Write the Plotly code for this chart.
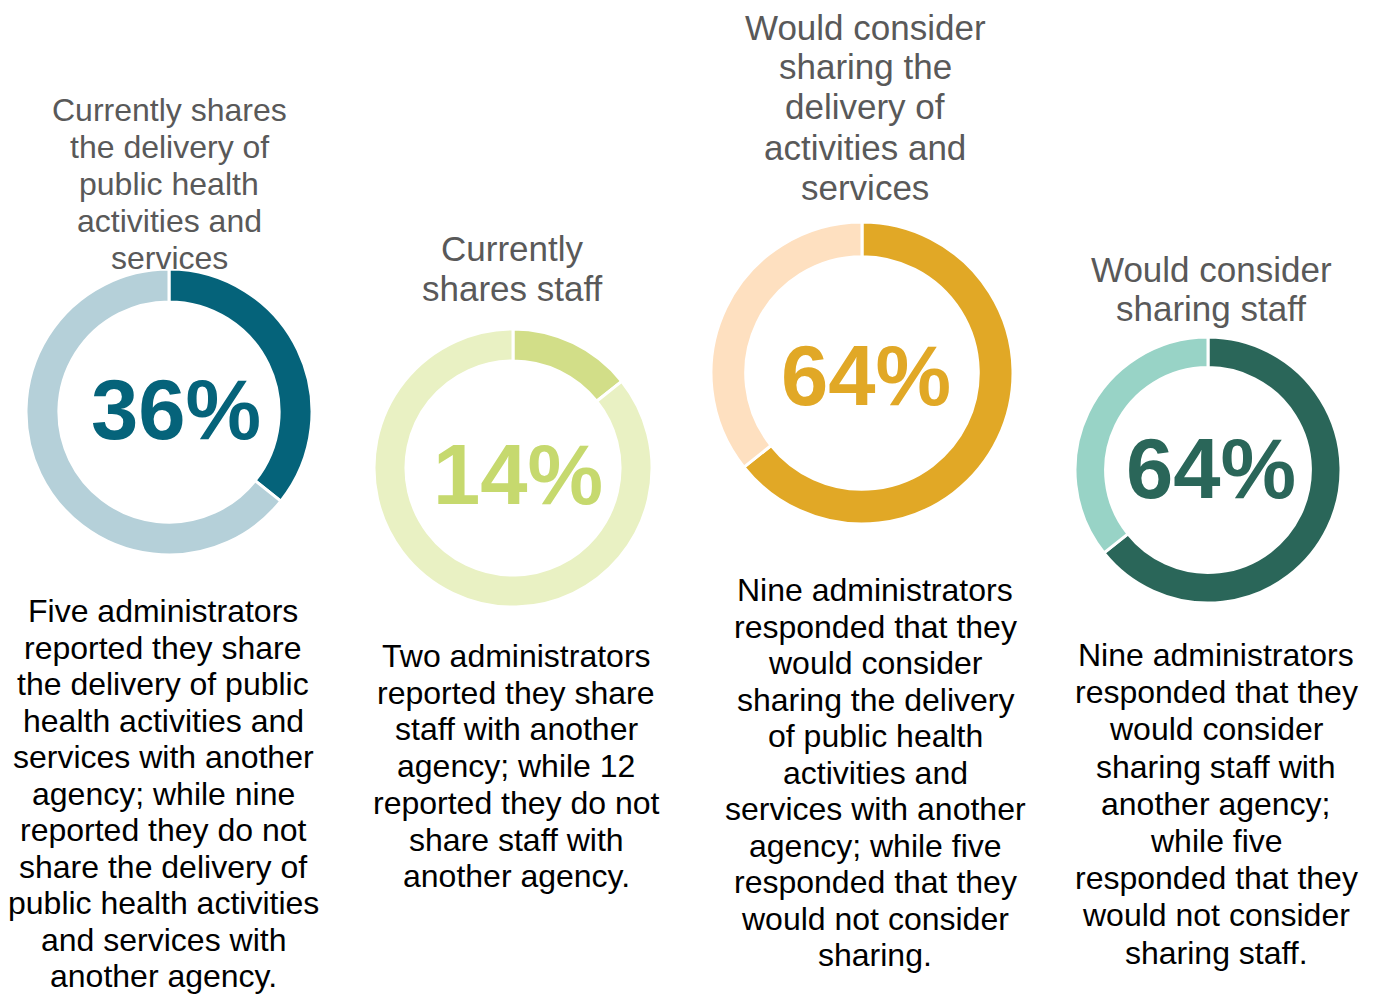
import plotly.graph_objects as go

W, H = 1374, 994

# Survey counts per question: [yes, no]
questions = [
    "Currently shares delivery",
    "Currently shares staff",
    "Would consider sharing delivery",
    "Would consider sharing staff",
]
yes_counts = [5, 2, 9, 9]
no_counts = [9, 12, 5, 5]
pct_labels = ["36%", "14%", "64%", "64%"]

title_lines = [
    ["Currently shares", "the delivery of", "public health", "activities and", "services"],
    ["Currently", "shares staff"],
    ["Would consider", "sharing the", "delivery of", "activities and", "services"],
    ["Would consider", "sharing staff"],
]

body_lines = [
    ["Five administrators", "reported they share", "the delivery of public",
     "health activities and", "services with another", "agency; while nine",
     "reported they do not", "share the delivery of", "public health activities",
     "and services with", "another agency."],
    ["Two administrators", "reported they share", "staff with another",
     "agency; while 12", "reported they do not", "share staff with",
     "another agency."],
    ["Nine administrators", "responded that they", "would consider",
     "sharing the delivery", "of public health", "activities and",
     "services with another", "agency; while five", "responded that they",
     "would not consider", "sharing."],
    ["Nine administrators", "responded that they", "would consider",
     "sharing staff with", "another agency;", "while five",
     "responded that they", "would not consider", "sharing staff."],
]

dark_colors = ["#05637a", "#d2de88", "#e1a826", "#2a6659"]
light_colors = ["#b5d0d9", "#e9f1c3", "#fee0c0", "#98d3c6"]
pct_colors = ["#05637a", "#c6d96e", "#e1a826", "#2a6659"]

# layout geometry in pixels
donut_cx = [169, 513, 862, 1208]
donut_cy = [412, 468, 373, 470]
donut_r = [143, 139, 151, 133]
pct_xy = [(176, 410), (518, 475), (866, 375), (1211, 468)]

title_x = [169, 512, 865, 1211]
title_y0 = [110, 249, 27, 269]
title_step = [37, 39, 40, 39]
title_size = [32, 35, 35, 35]

body_x = [163, 516, 875, 1216]
body_y0 = [611, 656, 590, 655]
body_step = [36.5, 36.7, 36.5, 37.2]

TEXT_FONT = "Liberation Sans, Arial, sans-serif"

fig = go.Figure()
annotations = []

for i in range(4):
    cx, cy, r = donut_cx[i], donut_cy[i], donut_r[i]
    fig.add_trace(go.Pie(
        values=[yes_counts[i], no_counts[i]],
        labels=["Yes", "No"],
        hole=0.77,
        sort=False,
        direction="clockwise",
        rotation=0,
        textinfo="none",
        hoverinfo="label+value+percent",
        marker=dict(colors=[dark_colors[i], light_colors[i]],
                    line=dict(color="white", width=3)),
        domain=dict(x=[(cx - r) / W, (cx + r) / W],
                    y=[1 - (cy + r) / H, 1 - (cy - r) / H]),
        showlegend=False,
        name=questions[i],
    ))

    px, py = pct_xy[i]
    annotations.append(dict(
        x=px / W, y=1 - py / H, xref="paper", yref="paper",
        text=f"<b>{pct_labels[i]}</b>", showarrow=False,
        xanchor="center", yanchor="middle",
        font=dict(family=TEXT_FONT, size=85, color=pct_colors[i]),
    ))

    for j, line in enumerate(title_lines[i]):
        ty = title_y0[i] + j * title_step[i]
        annotations.append(dict(
            x=title_x[i] / W, y=1 - ty / H, xref="paper", yref="paper",
            text=line, showarrow=False, xanchor="center", yanchor="middle",
            font=dict(family=TEXT_FONT, size=title_size[i], color="#595959"),
        ))

    for j, line in enumerate(body_lines[i]):
        by = body_y0[i] + j * body_step[i]
        annotations.append(dict(
            x=body_x[i] / W, y=1 - by / H, xref="paper", yref="paper",
            text=line, showarrow=False, xanchor="center", yanchor="middle",
            font=dict(family=TEXT_FONT, size=32, color="#000000"),
        ))

fig.update_layout(
    width=W, height=H,
    margin=dict(l=0, r=0, t=0, b=0),
    paper_bgcolor="white",
    plot_bgcolor="white",
    annotations=annotations,
)

fig.write_html("out.html", config={"displayModeBar": False})
